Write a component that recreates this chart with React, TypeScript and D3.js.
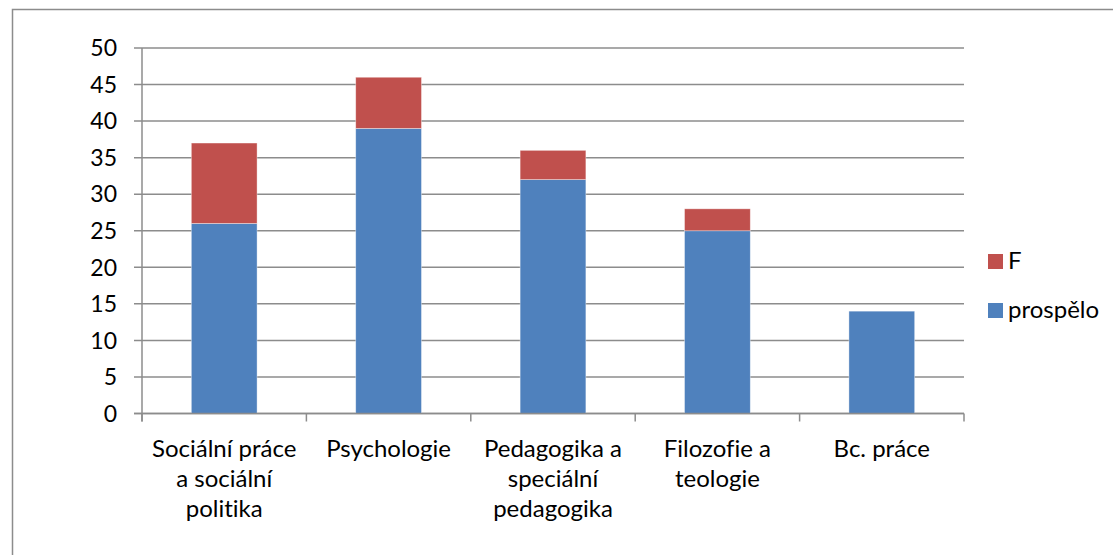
import React, { useEffect, useRef } from "react";
import * as d3 from "d3";

const categories = [
    "Sociální práce a sociální politika",
    "Psychologie",
    "Pedagogika a speciální pedagogika",
    "Filozofie a teologie",
    "Bc. práce",
];
const categoryLines = [
    ["Sociální práce", "a sociální", "politika"],
    ["Psychologie"],
    ["Pedagogika a", "speciální", "pedagogika"],
    ["Filozofie a", "teologie"],
    ["Bc. práce"],
];
const prospelo = [26, 39, 32, 25, 14];
const failed = [11, 7, 4, 3, 0];
const yTicks = [0, 5, 10, 15, 20, 25, 30, 35, 40, 45, 50];

const seriesKeys = ["prospelo", "F"];
const seriesLabels: Record<string, string> = { prospelo: "prospělo", F: "F" };
const colors: Record<string, string> = { prospelo: "#4F81BD", F: "#C0504D" };

const App: React.FC = () => {
    const svgRef = useRef<SVGSVGElement>(null);

    useEffect(() => {
        if (!svgRef.current) return;
        const svg = d3.select(svgRef.current);
        svg.selectAll("*").remove();

        const font = "Lato, 'Open Sans', sans-serif";
        const left = 142, right = 964, top = 48, bottom = 413.5;

        // outer frame
        svg.append("rect")
            .attr("x", 12.5).attr("y", 9.5)
            .attr("width", 1120).attr("height", 560)
            .attr("fill", "#fff")
            .attr("stroke", "#8c8c8c")
            .attr("stroke-width", 1.5);

        const x = d3.scaleBand().domain(categories).range([left, right]).paddingInner(0.6).paddingOuter(0.3);
        const y = d3.scaleLinear().domain([0, 50]).range([bottom, top]);

        const g = svg.append("g").style("font-variant-ligatures", "none");

        // gridlines + y ticks
        yTicks.forEach(t => {
            g.append("line")
                .attr("x1", left - 8).attr("x2", right)
                .attr("y1", y(t)).attr("y2", y(t))
                .attr("stroke", "#8c8c8c").attr("stroke-width", 1.5);
            g.append("text")
                .attr("x", 117).attr("y", y(t))
                .attr("dy", "0.36em")
                .attr("text-anchor", "end")
                .attr("font-family", font).attr("font-size", 23)
                .attr("fill", "#000")
                .text(t);
        });

        // stacked bars
        const rows = categories.map((c, i) => ({ cat: c, prospelo: prospelo[i], F: failed[i] }));
        const stack = d3.stack<any>().keys(seriesKeys)(rows);
        stack.forEach(layer => {
            g.append("g").selectAll("rect")
                .data(layer)
                .enter()
                .append("rect")
                .attr("x", d => x(d.data.cat) || 0)
                .attr("width", x.bandwidth())
                .attr("y", d => y(d[1]))
                .attr("height", d => y(d[0]) - y(d[1]))
                .attr("fill", colors[layer.key])
                .attr("stroke", "#fff")
                .attr("stroke-opacity", 0.5)
                .attr("stroke-width", 0.75);
        });

        // axes
        g.append("line")
            .attr("x1", left).attr("x2", left)
            .attr("y1", top).attr("y2", bottom + 8)
            .attr("stroke", "#8c8c8c").attr("stroke-width", 1.5);
        g.append("line")
            .attr("x1", left - 8).attr("x2", right)
            .attr("y1", bottom).attr("y2", bottom)
            .attr("stroke", "#8c8c8c").attr("stroke-width", 1.5);
        d3.range(categories.length + 1).forEach(i => {
            const xx = left + i * (right - left) / categories.length;
            g.append("line")
                .attr("x1", xx).attr("x2", xx)
                .attr("y1", bottom).attr("y2", bottom + 8)
                .attr("stroke", "#8c8c8c").attr("stroke-width", 1.5);
        });

        // category labels
        categories.forEach((c, i) => {
            const cx = (x(c) || 0) + x.bandwidth() / 2;
            const t = g.append("text")
                .attr("text-anchor", "middle")
                .attr("font-family", font).attr("font-size", 24)
                .attr("fill", "#000");
            categoryLines[i].forEach((line, j) => {
                t.append("tspan").attr("x", cx).attr("y", 457 + j * 30).text(line);
            });
        });

        // legend
        const legend = [...seriesKeys].reverse();
        legend.forEach((k, i) => {
            const ly = 254 + i * 49;
            g.append("rect")
                .attr("x", 988).attr("y", ly)
                .attr("width", 15).attr("height", 15)
                .attr("fill", colors[k]);
            g.append("text")
                .attr("x", 1008).attr("y", ly + 15)
                .attr("font-family", font).attr("font-size", 24)
                .attr("fill", "#000")
                .text(seriesLabels[k]);
        });
    }, []);

    return (
        <svg
            ref={svgRef}
            width={1113}
            height={555}
            style={{ position: "absolute", top: 0, left: 0, background: "#fff" }}
        />
    );
};

export default App;
